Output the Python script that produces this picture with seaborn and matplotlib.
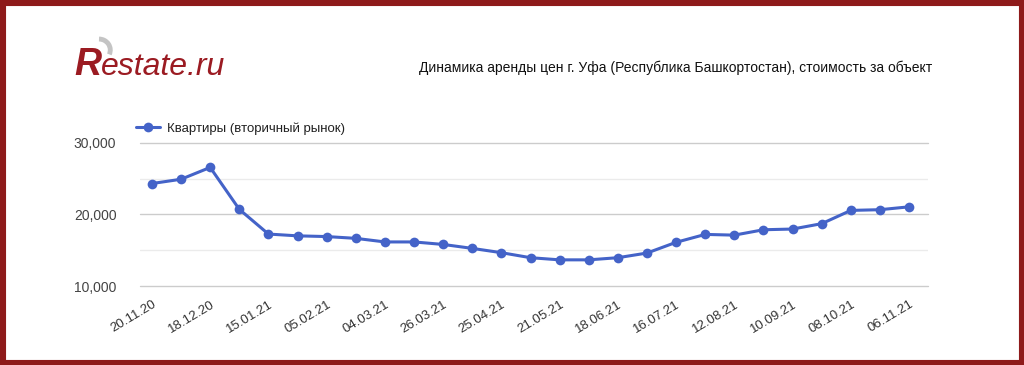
# -*- coding: utf-8 -*-
# Динамика аренды, Уфа - перерисовка графика
import matplotlib
matplotlib.use("Agg")
import matplotlib.pyplot as plt
import matplotlib.patches as mpatches
from matplotlib.ticker import FuncFormatter, MultipleLocator
import seaborn as sns
import pandas as pd

# Данные
tick_labels = ['20.11.20', '18.12.20', '15.01.21', '05.02.21', '04.03.21',
               '26.03.21', '25.04.21', '21.05.21', '18.06.21', '16.07.21',
               '12.08.21', '10.09.21', '08.10.21', '06.11.21']
prices = [24300, 24900, 26550, 20700, 17250, 17000, 16900, 16650, 16150,
          16150, 15800, 15250, 14650, 13950, 13650, 13650, 13950, 14600,
          16100, 17200, 17100, 17850, 17950, 18700, 20550, 20650, 21050]
series_name = 'Квартиры (вторичный рынок)'

df = pd.DataFrame({'idx': range(len(prices)), 'price': prices})

sns.set_style('white')
plt.rcParams['font.family'] = ['Liberation Sans', 'DejaVu Sans']

fig = plt.figure(figsize=(10.24, 3.65), dpi=100)
ax = fig.add_axes([140 / 1024, 1 - 286 / 365, 788 / 1024, (286 - 142.7) / 365])

blue = '#4463c8'
sns.lineplot(data=df, x='idx', y='price', ax=ax, color=blue, linewidth=2.2,
             marker='o', markersize=7, markeredgewidth=0, label=series_name)

# оси
ax.set_ylim(10000, 30000)
ax.set_xlim(-0.41, 26.65)
ax.yaxis.set_major_locator(MultipleLocator(10000))
ax.yaxis.set_minor_locator(MultipleLocator(5000))
ax.yaxis.set_major_formatter(FuncFormatter(lambda v, p: f'{int(v):,}'))
ax.grid(which='major', axis='y', color='#cccccc', linewidth=1)
ax.grid(which='minor', axis='y', color='#ebebeb', linewidth=1)
for gl in ax.get_ygridlines():
    gl.set_clip_on(False)
ax.set_axisbelow(True)
for s in ax.spines.values():
    s.set_visible(False)

ax.set_xticks(range(0, len(prices), 2))
ax.set_xticklabels(tick_labels, rotation=31, ha='right', rotation_mode='anchor')
ax.tick_params(axis='x', length=0, pad=9, labelsize=9.5, labelcolor='#333333')
ax.tick_params(axis='y', which='both', length=0, pad=17, labelsize=10, labelcolor='#444444')
ax.set_xlabel('')
ax.set_ylabel('')

# легенда
leg = ax.legend(loc='lower left', bbox_to_anchor=(-0.012, 1.02), frameon=False,
                fontsize=9.5, handlelength=1.8, handletextpad=0.6, borderaxespad=0)
for t in leg.get_texts():
    t.set_color('#222222')

# заголовок
fig.text(932 / 1024, 1 - 68 / 365,
         'Динамика аренды цен г. Уфа (Республика Башкортостан), стоимость за объект',
         ha='right', va='center', fontsize=10, color='#111111')

# логотип
logo_red = '#9b1b22'
fig.patches.append(mpatches.Arc((99 / 1024, 1 - 50 / 365), 0.022, 0.06, theta1=-50, theta2=90,
                                transform=fig.transFigure, color='#c4c4c4', linewidth=3.5))
fig.text(74 / 1024, 1 - 75 / 365, 'R', ha='left', va='baseline', fontsize=27,
         style='italic', fontweight='bold', color=logo_red)
fig.text(101 / 1024, 1 - 75 / 365, 'estate.ru', ha='left', va='baseline', fontsize=23,
         style='italic', color=logo_red)

# рамка
fig.patches.append(mpatches.Rectangle((0, 0), 1, 1, transform=fig.transFigure,
                                      fill=False, edgecolor='#8e1a1a', linewidth=8))

fig.savefig('out.png', dpi=100)
